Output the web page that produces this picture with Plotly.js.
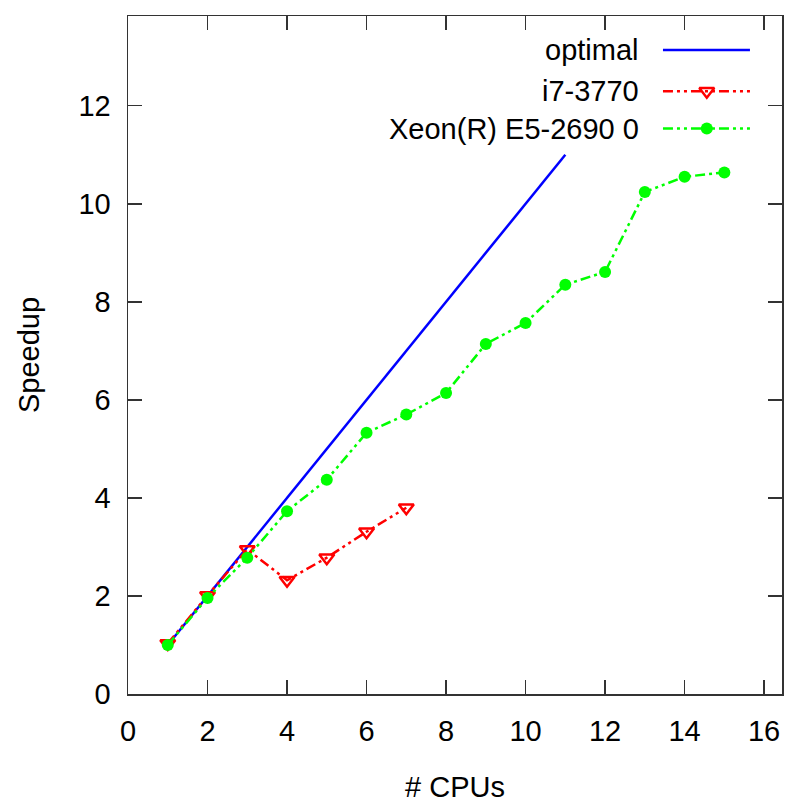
<!DOCTYPE html>
<html>
<head>
<meta charset="utf-8">
<script src="https://cdn.plot.ly/plotly-3.0.1.min.js"></script>
<style>html,body{margin:0;padding:0;background:#fff;}#chart{width:786px;height:803px;}</style>
</head>
<body>
<div id="chart"></div>
<script>
// Data
const optimalX = [1, 11];
const optimalY = [1, 11];
const i7CPUs = [1, 2, 3, 4, 5, 6, 7];
const i7Speedup = [1.03, 2.01, 2.95, 2.32, 2.78, 3.31, 3.80];
const xeonCPUs = [1, 2, 3, 4, 5, 6, 7, 8, 9, 10, 11, 12, 13, 14, 15];
const xeonSpeedup = [1.0, 1.96, 2.78, 3.73, 4.37, 5.33, 5.70, 6.14, 7.14, 7.57, 8.35, 8.61, 10.24, 10.55, 10.64];
const seriesNames = ["optimal", "i7-3770", "Xeon(R) E5-2690 0"];
const xTicks = [0, 2, 4, 6, 8, 10, 12, 14, 16];
const yTicks = [0, 2, 4, 6, 8, 10, 12];

const BLUE = '#0000ff', RED = '#ff0000', GREEN = '#00ff00';
const DASH = '10px,4px,3px,4px,3px,4px';
const FONT = 'Liberation Sans, Arial, sans-serif';
const FS = 29;

const triMarker = {symbol: 'triangle-down-open', size: 13, color: RED, line: {color: RED, width: 2.5}};
const dotMarker = {symbol: 'circle', size: 12, color: GREEN};

const traces = [
  {x: optimalX, y: optimalY, mode: 'lines', line: {color: BLUE, width: 2.5}, name: seriesNames[0], showlegend: false},
  {x: i7CPUs, y: i7Speedup, mode: 'lines+markers', line: {color: RED, width: 2.5, dash: DASH},
   marker: triMarker, name: seriesNames[1], showlegend: false},
  {x: xeonCPUs, y: xeonSpeedup, mode: 'lines+markers', line: {color: GREEN, width: 2.5, dash: DASH},
   marker: dotMarker, name: seriesNames[2], showlegend: false}
];

// Custom gnuplot-style key (text right, sample on the right) drawn on a hidden overlay frame
const keyRows = [0.950, 0.889, 0.834];
const keyX0 = 0.818, keyX1 = 0.951, keyXm = 0.885, keyText = 0.785;
const keyStyles = [
  {line: {color: BLUE, width: 2.5}, marker: null},
  {line: {color: RED, width: 2.5, dash: DASH}, marker: triMarker},
  {line: {color: GREEN, width: 2.5, dash: DASH}, marker: dotMarker}
];
const annotations = [];
keyStyles.forEach((s, i) => {
  traces.push({x: [keyX0, keyX1], y: [keyRows[i], keyRows[i]], xaxis: 'x2', yaxis: 'y2', mode: 'lines',
    line: s.line, showlegend: false, hoverinfo: 'skip'});
  if (s.marker) {
    traces.push({x: [keyXm], y: [keyRows[i]], xaxis: 'x2', yaxis: 'y2', mode: 'markers',
      marker: s.marker, showlegend: false, hoverinfo: 'skip'});
  }
  annotations.push({xref: 'paper', yref: 'paper', x: keyText, y: keyRows[i], xanchor: 'right', yanchor: 'middle',
    text: seriesNames[i], showarrow: false, font: {family: FONT, size: FS, color: '#000'}});
});

const axisCommon = {
  showline: true, linecolor: '#333', linewidth: 1.5, mirror: 'ticks',
  ticks: 'inside', ticklen: 14, tickwidth: 1.5, tickcolor: '#333',
  showgrid: false, zeroline: false,
  tickfont: {family: FONT, size: FS, color: '#000'}
};

const layout = {
  width: 786, height: 803,
  margin: {l: 128, r: 4, t: 16, b: 109},
  paper_bgcolor: '#fff', plot_bgcolor: '#fff',
  showlegend: false,
  xaxis: Object.assign({}, axisCommon, {range: [0, 16.45], tickvals: xTicks, ticktext: xTicks.map(String),
    ticklabelstandoff: 11,
    title: {text: '# CPUs', font: {family: FONT, size: FS, color: '#000'}, standoff: 30}}),
  yaxis: Object.assign({}, axisCommon, {range: [0, 13.83], tickvals: yTicks, ticktext: yTicks.map(String),
    ticklabelstandoff: 10,
    title: {text: 'Speedup', font: {family: FONT, size: FS, color: '#000'}, standoff: 30}}),
  xaxis2: {overlaying: 'x', range: [0, 1], visible: false, fixedrange: true},
  yaxis2: {overlaying: 'y', range: [0, 1], visible: false, fixedrange: true},
  annotations: annotations
};

Plotly.newPlot('chart', traces, layout, {displayModeBar: false, staticPlot: true});
</script>
</body>
</html>
